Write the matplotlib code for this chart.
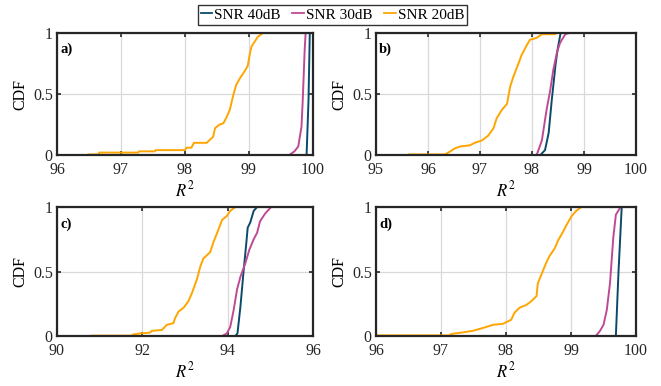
import matplotlib
matplotlib.use("Agg")
import matplotlib.pyplot as plt
from matplotlib.lines import Line2D

plt.rcParams['font.family'] = ['Liberation Serif', 'DejaVu Serif']
plt.rcParams['mathtext.fontset'] = 'stix'
plt.rcParams['font.size'] = 11

series_names = ["SNR 40dB", "SNR 30dB", "SNR 20dB"]
series_colors = ["#0b4a6b", "#bf4a94", "#ffa500"]

# Panel a)
a_40_x = [99.90, 99.93, 99.95]
a_40_y = [0.0, 0.45, 1.0]
a_30_x = [99.63, 99.71, 99.77, 99.82, 99.84, 99.87, 99.885]
a_30_y = [0.0, 0.03, 0.07, 0.23, 0.45, 0.86, 1.0]
a_20_x = [96.49, 96.65, 96.66, 97.27, 97.28, 97.53, 97.54, 98.0, 98.02, 98.1, 98.14, 98.2,
          98.34, 98.44, 98.47, 98.54, 98.6, 98.65, 98.7, 98.75, 98.8, 98.86, 98.93, 98.98,
          99.01, 99.04, 99.09, 99.14, 99.22]
a_20_y = [0.005, 0.005, 0.02, 0.02, 0.03, 0.03, 0.04, 0.04, 0.06, 0.06, 0.1, 0.1,
          0.1, 0.15, 0.22, 0.25, 0.26, 0.31, 0.37, 0.48, 0.575, 0.63, 0.685, 0.73,
          0.82, 0.89, 0.93, 0.97, 1.0]

# Panel b)
b_40_x = [98.16, 98.25, 98.32, 98.38, 98.45, 98.49, 98.55]
b_40_y = [0.0, 0.04, 0.18, 0.45, 0.73, 0.86, 1.0]
b_30_x = [98.09, 98.19, 98.28, 98.35, 98.41, 98.48, 98.54, 98.64, 98.72]
b_30_y = [0.0, 0.12, 0.37, 0.53, 0.70, 0.84, 0.92, 0.99, 1.0]
b_20_x = [95.63, 96.33, 96.43, 96.52, 96.62, 96.81, 96.9, 97.04, 97.16, 97.26, 97.32,
          97.42, 97.52, 97.58, 97.64, 97.74, 97.8, 97.9, 97.96, 98.09, 98.19, 98.44, 98.46]
b_20_y = [0.005, 0.005, 0.03, 0.055, 0.07, 0.08, 0.1, 0.12, 0.16, 0.22, 0.3,
          0.37, 0.42, 0.56, 0.64, 0.75, 0.82, 0.9, 0.945, 0.96, 0.99, 0.99, 1.0]

# Panel c)
c_40_x = [94.18, 94.23, 94.30, 94.37, 94.44, 94.47, 94.53, 94.61, 94.69]
c_40_y = [0.0, 0.02, 0.23, 0.49, 0.73, 0.84, 0.88, 0.97, 1.0]
c_30_x = [93.87, 93.98, 94.06, 94.14, 94.22, 94.30, 94.41, 94.51, 94.61, 94.69, 94.76,
          94.88, 95.02]
c_30_y = [0.0, 0.02, 0.07, 0.2, 0.36, 0.46, 0.56, 0.67, 0.75, 0.8, 0.89, 0.95, 1.0]
c_20_x = [90.81, 91.75, 91.79, 91.95, 92.18, 92.22, 92.46, 92.57, 92.73, 92.77, 92.85,
          92.97, 93.08, 93.16, 93.28, 93.36, 93.43, 93.59, 93.67, 93.79, 93.87, 93.98,
          94.06, 94.18]
c_20_y = [0.003, 0.003, 0.013, 0.02, 0.026, 0.04, 0.047, 0.086, 0.1, 0.14, 0.19,
          0.22, 0.27, 0.33, 0.44, 0.54, 0.6, 0.65, 0.73, 0.83, 0.9, 0.93, 0.97, 1.0]

# Panel d)
d_40_x = [99.69, 99.73, 99.78]
d_40_y = [0.0, 0.49, 1.0]
d_30_x = [99.38, 99.44, 99.50, 99.55, 99.60, 99.65, 99.69, 99.75, 99.77]
d_30_y = [0.0, 0.035, 0.087, 0.2, 0.41, 0.76, 0.94, 0.99, 1.0]
d_20_x = [96.0, 97.13, 97.16, 97.31, 97.49, 97.67, 97.8, 97.95, 98.08, 98.13, 98.21,
          98.31, 98.39, 98.47, 98.49, 98.54, 98.62, 98.67, 98.75, 98.8, 98.88, 98.93,
          99.01, 99.08, 99.16]
d_20_y = [0.005, 0.005, 0.016, 0.026, 0.04, 0.066, 0.087, 0.094, 0.126, 0.18, 0.22,
          0.24, 0.27, 0.31, 0.41, 0.47, 0.57, 0.62, 0.68, 0.74, 0.81, 0.86,
          0.93, 0.97, 1.0]

panel_labels = ["a)", "b)", "c)", "d)"]
panel_xlims = [(96, 100), (95, 100), (90, 96), (96, 100)]
panel_xticks = [[96, 97, 98, 99, 100], [95, 96, 97, 98, 99, 100], [90, 92, 94, 96],
                [96, 97, 98, 99, 100]]
y_ticks = [0, 0.5, 1]
y_tick_labels = ["0", "0.5", "1"]

panel_curves = [
    [(a_40_x, a_40_y), (a_30_x, a_30_y), (a_20_x, a_20_y)],
    [(b_40_x, b_40_y), (b_30_x, b_30_y), (b_20_x, b_20_y)],
    [(c_40_x, c_40_y), (c_30_x, c_30_y), (c_20_x, c_20_y)],
    [(d_40_x, d_40_y), (d_30_x, d_30_y), (d_20_x, d_20_y)],
]

fig = plt.figure(figsize=(6.61, 3.86), dpi=100)
axes_rects = [
    [0.0862, 0.5984, 0.3873, 0.3161],
    [0.5688, 0.5984, 0.3934, 0.3161],
    [0.0862, 0.1295, 0.3873, 0.3342],
    [0.5688, 0.1295, 0.3934, 0.3342],
]

for rect, label, xlim, xt, curves in zip(axes_rects, panel_labels, panel_xlims,
                                         panel_xticks, panel_curves):
    ax = fig.add_axes(rect)
    for (xs, ys), color in zip(curves, series_colors):
        ax.plot(xs, ys, color=color, lw=1.4)
    ax.set_xlim(*xlim)
    ax.set_ylim(0, 1)
    ax.set_xticks(xt)
    ax.set_yticks(y_ticks)
    ax.set_yticklabels(y_tick_labels)
    ax.grid(True, color='#d9d9d9', lw=0.9)
    ax.set_axisbelow(True)
    for s in ax.spines.values():
        s.set_linewidth(1.6)
        s.set_color('#262626')
    ax.tick_params(direction='in', top=True, right=True, length=3, width=1.2,
                   labelsize=11.5, colors='#262626')
    ax.tick_params(axis='x', pad=5)
    ax.tick_params(axis='y', pad=3)
    ax.set_xlabel('$R^2$', fontsize=12, labelpad=2)
    ax.set_ylabel('CDF', fontsize=11.5, labelpad=3)
    ax.text(0.012, 0.87, label, transform=ax.transAxes, fontweight='bold',
            fontsize=10.5, va='center', ha='left')

handles = [Line2D([], [], color=c, lw=1.3) for c in series_colors]
fig.legend(handles, series_names, loc='center', bbox_to_anchor=(0.503, 0.962),
           ncol=3, frameon=True, fancybox=False, edgecolor='black', fontsize=11,
           handlelength=0.75, handletextpad=0.15, columnspacing=0.75,
           borderpad=0.2, borderaxespad=0)

fig.savefig('out.png', dpi=100)
